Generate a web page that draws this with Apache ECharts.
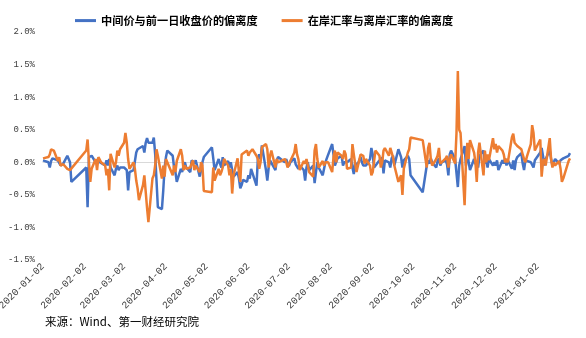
<!DOCTYPE html>
<html>
<head>
<meta charset="utf-8">
<script src="https://cdn.jsdelivr.net/npm/echarts@6/dist/echarts.min.js"></script>
<style>
  html, body { margin: 0; padding: 0; background: #fff; }
  #chart { width: 586px; height: 338px; }
</style>
</head>
<body>
<div id="chart"></div>
<script>
// Months covered and the trading days within each month
const months = ['2020-01', '2020-02', '2020-03', '2020-04', '2020-05', '2020-06', '2020-07',
  '2020-08', '2020-09', '2020-10', '2020-11', '2020-12', '2021-01'];

const tradingDays = [
  [2, 3, 6, 7, 8, 9, 10, 13, 14, 15, 16, 17, 20, 21, 22, 23],
  [3, 4, 5, 6, 7, 10, 11, 12, 13, 14, 17, 18, 19, 20, 21, 24, 25, 26, 27, 28],
  [2, 3, 4, 5, 6, 9, 10, 11, 12, 13, 16, 17, 18, 19, 20, 23, 24, 25, 26, 27, 30, 31],
  [1, 2, 3, 7, 8, 9, 10, 13, 14, 15, 16, 17, 20, 21, 22, 23, 24, 27, 28, 29, 30],
  [6, 7, 8, 11, 12, 13, 14, 15, 18, 19, 20, 21, 22, 25, 26, 27, 28, 29],
  [1, 2, 3, 4, 5, 8, 9, 10, 11, 12, 15, 16, 17, 18, 19, 22, 23, 24, 29, 30],
  [1, 2, 3, 6, 7, 8, 9, 10, 13, 14, 15, 16, 17, 20, 21, 22, 23, 24, 27, 28, 29, 30, 31],
  [3, 4, 5, 6, 7, 10, 11, 12, 13, 14, 17, 18, 19, 20, 21, 24, 25, 26, 27, 28, 31],
  [1, 2, 3, 4, 7, 8, 9, 10, 11, 14, 15, 16, 17, 18, 21, 22, 23, 24, 25, 28, 29, 30],
  [9, 12, 13, 14, 15, 16, 19, 20, 21, 22, 23, 26, 27, 28, 29, 30],
  [2, 3, 4, 5, 6, 9, 10, 11, 12, 13, 16, 17, 18, 19, 20, 23, 24, 25, 26, 27, 30],
  [1, 2, 3, 4, 7, 8, 9, 10, 11, 14, 15, 16, 17, 18, 21, 22, 23, 24, 25, 28, 29, 30, 31],
  [4, 5, 6, 7, 8, 11, 12, 13, 14, 15, 18, 19, 20, 21, 22, 25, 26]
];

// 中间价与前一日收盘价的偏离度 (%), one row per month
const midVsPrevClose = [
  [0.03, 0.05, 0.0, -0.08, 0.02, 0.06, 0.08, 0.03, 0.0, -0.05, -0.08, -0.02, 0.1, 0.05, 0.0, -0.3],
  [-0.08, -0.69, 0.08, 0.06, 0.1, 0.0, -0.02, 0.06, 0.0, 0.03, -0.05, 0.03, -0.05, 0.05, -0.08, -0.2, -0.1, -0.05, -0.12, -0.08],
  [-0.08, -0.05, -0.12, -0.43, -0.15, -0.12, -0.15, 0.15, 0.2, 0.18, 0.25, 0.15, 0.3, 0.37, 0.3, 0.3, 0.38, 0.13, -0.28, -0.69, -0.72, -0.43],
  [-0.08, 0.08, 0.18, 0.1, -0.08, -0.15, -0.3, -0.1, -0.15, -0.05, 0.0, -0.08, -0.15, 0.03, 0.06, -0.02, 0.03, -0.22, -0.12, 0.0, 0.08],
  [0.23, 0.06, -0.12, 0.05, -0.02, -0.08, 0.08, -0.05, 0.02, -0.08, 0.0, -0.12, -0.22, -0.15, -0.25, -0.4, -0.35, -0.27],
  [-0.3, -0.2, -0.25, -0.1, -0.08, -0.36, 0.05, 0.12, 0.05, 0.26, -0.12, -0.28, -0.08, 0.03, 0.05, -0.12, 0.03, 0.08, 0.0, 0.05],
  [-0.02, -0.06, 0.0, 0.06, -0.03, -0.06, -0.1, -0.05, -0.12, -0.28, -0.08, 0.0, -0.12, -0.05, -0.32, -0.15, 0.0, -0.08, -0.2, -0.1, 0.0, 0.06, 0.05],
  [0.28, 0.12, -0.05, -0.08, 0.06, 0.1, -0.05, 0.0, 0.03, 0.0, 0.05, -0.08, -0.18, 0.0, -0.08, 0.08, 0.0, -0.05, -0.06, -0.05, 0.05],
  [0.22, 0.12, -0.08, -0.05, 0.03, -0.02, 0.08, -0.17, 0.03, 0.0, -0.08, 0.06, 0.1, -0.05, 0.2, 0.18, 0.08, -0.08, 0.03, 0.1, 0.05, -0.2],
  [-0.46, -0.05, 0.03, -0.02, 0.06, 0.0, -0.08, 0.02, 0.06, -0.05, 0.0, 0.03, -0.03, -0.2, 0.12, 0.18],
  [0.05, 0.02, -0.38, -0.05, 0.05, 0.25, -0.05, 0.2, 0.0, -0.12, 0.05, -0.03, 0.02, -0.08, 0.1, 0.18, -0.02, 0.03, -0.08, 0.05, -0.05],
  [0.0, -0.05, 0.03, -0.12, 0.03, -0.02, 0.06, -0.05, 0.03, -0.1, 0.03, -0.12, 0.03, 0.08, 0.14, -0.02, -0.12, 0.03, 0.06, 0.0, -0.03, -0.08, 0.03],
  [0.15, 0.22, 0.1, -0.05, 0.05, 0.18, 0.05, -0.05, 0.0, 0.05, -0.02, 0.03, 0.05, 0.06, 0.08, 0.1, 0.14]
];

// 在岸汇率与离岸汇率的偏离度 (%), one row per month
const onshoreVsOffshore = [
  [0.06, 0.05, 0.08, 0.12, 0.2, 0.22, 0.18, 0.02, 0.08, -0.05, -0.08, -0.03, -0.1, -0.08, -0.12, -0.1],
  [0.18, 0.35, 0.0, -0.3, -0.1, 0.05, -0.12, 0.08, 0.1, 0.0, -0.05, -0.2, -0.1, -0.43, 0.13, -0.08, 0.0, 0.18, 0.1, 0.2],
  [0.3, 0.45, 0.3, 0.05, -0.1, 0.0, -0.1, -0.28, -0.4, -0.58, -0.35, -0.2, -0.45, -0.7, -0.92, -0.25, -0.2, -0.05, 0.2, 0.1, -0.25, -0.05],
  [-0.22, 0.05, 0.08, -0.2, -0.05, -0.15, 0.02, 0.2, 0.1, -0.12, -0.05, -0.1, -0.08, -0.02, 0.03, -0.12, -0.05, -0.15, 0.0, -0.05, -0.44],
  [-0.46, -0.08, -0.28, -0.1, -0.2, -0.15, -0.08, 0.05, -0.05, -0.2, -0.1, -0.48, -0.2, 0.06, -0.15, -0.3, 0.12, 0.15],
  [0.18, 0.1, 0.15, 0.12, 0.2, 0.1, 0.05, -0.1, 0.0, 0.23, 0.28, 0.2, -0.08, 0.1, 0.18, -0.08, 0.05, 0.0, 0.05, 0.0],
  [-0.08, -0.05, 0.02, 0.15, 0.28, 0.12, 0.05, -0.12, 0.02, -0.02, 0.05, -0.05, -0.15, -0.22, 0.18, 0.28, 0.05, -0.08, 0.02, -0.05, 0.0, -0.02, 0.0],
  [-0.15, 0.08, 0.18, 0.0, 0.15, 0.1, 0.05, 0.18, 0.12, -0.1, -0.08, 0.28, 0.12, -0.02, -0.15, 0.12, 0.15, 0.1, -0.02, 0.05, -0.05],
  [-0.2, -0.15, -0.18, 0.18, 0.1, -0.08, 0.0, 0.18, 0.22, 0.1, 0.22, 0.25, 0.08, -0.05, -0.3, -0.3, -0.2, -0.5, -0.1, 0.15, 0.2, 0.38],
  [0.34, -0.08, 0.22, 0.3, 0.05, -0.05, 0.05, 0.1, 0.22, -0.02, 0.0, 0.06, 0.1, -0.08, 0.05, 0.12],
  [-0.02, 0.45, 1.40, 0.5, 0.45, -0.66, 0.0, 0.3, 0.05, 0.34, 0.15, 0.0, -0.3, 0.15, 0.3, -0.2, 0.18, 0.0, 0.12, 0.03, 0.37],
  [0.2, 0.28, 0.15, 0.25, 0.18, 0.12, 0.0, 0.05, 0.0, 0.38, 0.44, 0.3, 0.3, 0.25, 0.2, 0.12, 0.05, 0.0, 0.08, 0.28, 0.57, 0.45, 0.18],
  [0.35, -0.22, 0.0, 0.05, -0.05, 0.37, 0.05, -0.08, 0.0, -0.05, 0.02, -0.1, -0.3, -0.25, -0.22, 0.02, 0.06]
];

// Dates shown under the horizontal axis
const xTickLabels = ['2020-01-02', '2020-02-02', '2020-03-02', '2020-04-02', '2020-05-02', '2020-06-02',
  '2020-07-02', '2020-08-02', '2020-09-02', '2020-10-02', '2020-11-02', '2020-12-02', '2021-01-02'];

const seriesNames = ['中间价与前一日收盘价的偏离度', '在岸汇率与离岸汇率的偏离度'];
const sourceNote = '来源：Wind、第一财经研究院';

function toTime(str) {
  const [y, m, d] = str.split('-').map(Number);
  return new Date(y, m - 1, d).getTime();
}
function pad(n) { return n < 10 ? '0' + n : '' + n; }

function buildSeries(rows) {
  const out = [];
  months.forEach((mo, i) => {
    tradingDays[i].forEach((d, j) => {
      out.push([toTime(mo + '-' + pad(d)), rows[i][j]]);
    });
  });
  return out;
}

const midData = buildSeries(midVsPrevClose);
const offData = buildSeries(onshoreVsOffshore);
const xMin = midData[0][0];
const xMax = midData[midData.length - 1][0];

const chart = echarts.init(document.getElementById('chart'), null, { renderer: 'canvas' });

const tickFont = { fontFamily: 'Liberation Mono', color: '#404040' };

chart.setOption({
  animation: false,
  backgroundColor: '#fff',
  legend: {
    data: seriesNames,
    left: 70,
    top: 10,
    icon: 'rect',
    itemWidth: 21,
    itemHeight: 3,
    itemGap: 24,
    textStyle: { fontFamily: 'Noto Sans CJK SC', fontWeight: 'bold', fontSize: 11.2, color: '#000' }
  },
  grid: { left: 43, right: 16, top: 32, bottom: 78, containLabel: false, outerBoundsMode: 'none' },
  xAxis: [
    {
      // dates as timestamps on a linear scale, labelled on the 2nd of each month
      type: 'value',
      min: xMin,
      max: xMax,
      axisLine: { show: false, onZero: false },
      axisTick: { show: false },
      splitLine: { show: false },
      axisLabel: {
        customValues: xTickLabels.map(toTime),
        rotate: 45,
        margin: 5,
        fontSize: 10,
        ...tickFont,
        hideOverlap: false,
        showMinLabel: true,
        showMaxLabel: true,
        formatter: (v) => {
          const d = new Date(v);
          return d.getFullYear() + '-' + pad(d.getMonth() + 1) + '-' + pad(d.getDate());
        }
      }
    },
    {
      // thin baseline drawn through zero
      type: 'value',
      min: xMin,
      max: xMax,
      position: 'bottom',
      axisLine: { show: true, onZero: true, lineStyle: { color: '#d9d9d9', width: 1 } },
      axisTick: { show: false },
      axisLabel: { show: false },
      splitLine: { show: false }
    }
  ],
  yAxis: {
    type: 'value',
    min: -1.5,
    max: 2.0,
    interval: 0.5,
    axisLine: { show: false },
    axisTick: { show: false },
    splitLine: { show: false },
    axisLabel: {
      margin: 8,
      fontSize: 9,
      ...tickFont,
      formatter: (v) => v.toFixed(1) + '%'
    }
  },
  series: [
    {
      name: seriesNames[0],
      type: 'line',
      xAxisIndex: 0,
      data: midData,
      showSymbol: false,
      symbol: 'none',
      lineStyle: { width: 2.5, color: '#4472C4' },
      itemStyle: { color: '#4472C4' },
      emphasis: { disabled: true }
    },
    {
      name: seriesNames[1],
      type: 'line',
      xAxisIndex: 0,
      data: offData,
      showSymbol: false,
      symbol: 'none',
      lineStyle: { width: 2.5, color: '#ED7D31' },
      itemStyle: { color: '#ED7D31' },
      emphasis: { disabled: true }
    }
  ],
  graphic: [
    {
      type: 'text',
      left: 45,
      top: 316,
      style: { text: sourceNote, fontSize: 11.5, fontFamily: 'Noto Sans CJK SC', fill: '#000' }
    }
  ]
});
</script>
</body>
</html>
